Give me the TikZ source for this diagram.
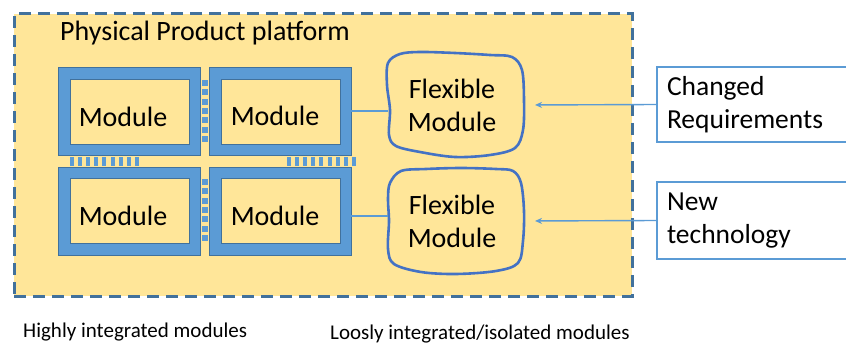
\documentclass[tikz,border=0pt]{standalone}
\usepackage{fontspec}
\setmainfont{Carlito}
\usetikzlibrary{arrows.meta}
\definecolor{pyel}{HTML}{FFE699}
\definecolor{mblue}{HTML}{5B9BD5}
\definecolor{mdark}{HTML}{41719C}
\definecolor{fblue}{HTML}{4472C4}
\tikzset{
  platform/.style={draw=mdark, fill=pyel, line width=3pt, dash pattern=on 12pt off 7pt,
    minimum width=618pt, minimum height=282pt, inner sep=0pt, outer sep=0pt},
  modout/.style={draw=mdark, fill=mblue, line width=0.8pt, minimum width=142pt,
    minimum height=88pt, inner sep=0pt, outer sep=0pt},
  modin/.style={draw=mdark, fill=pyel, line width=0.6pt, minimum width=119pt,
    minimum height=65pt, inner sep=0pt, outer sep=0pt},
  modtext/.style={inner sep=0pt, font=\fontsize{28}{33}\selectfont},
  flexnode/.style={minimum width=136pt, minimum height=104pt, inner sep=0pt, outer sep=0pt,
    align=center, font=\fontsize{28}{33}\selectfont},
  wobble/.style={draw=fblue, line width=2.6pt, line join=round},
  rbox/.style={draw=mblue, fill=white, line width=1.6pt, anchor=west, text width=180pt,
    inner xsep=10pt, inner ysep=0pt, align=left, outer sep=0pt,
    font=\fontsize{27.5}{33}\selectfont},
  conn/.style={draw=mblue, line width=2pt},
  arr/.style={draw=mblue, line width=1.4pt, -{Stealth[length=7pt,width=6pt]}, shorten >=10pt},
  bar/.style={fill=mblue},
  caption/.style={anchor=west, inner sep=0pt, font=\fontsize{21}{24}\selectfont}
}
\begin{document}
\begin{tikzpicture}[x=1pt, y=-1pt]
\useasboundingbox (0,0) rectangle (846,345);
\clip (0,0) rectangle (846,345);
\fill[white] (0,0) rectangle (846,345);

\node[platform] (pf) at (323,155) {};
\node[anchor=west, inner sep=0pt, font=\fontsize{28}{33}\selectfont] (title) at (60,33) {Physical Product platform};

% modules
\node[modout] (m1o) at (129.5,111) {};
\node[modin] (m1) at (129.5,111.5) {};
\node[modtext] (m1t) at (123,117) {Module};
\node[modout] (m2o) at (280,111) {};
\node[modin] (m2) at (280.5,111.5) {};
\node[modtext] (m2t) at (275,116) {Module};
\node[modout] (m3o) at (129.5,211) {};
\node[modin] (m3) at (129.5,210.5) {};
\node[modtext] (m3t) at (123,216) {Module};
\node[modout] (m4o) at (280,211) {};
\node[modin] (m4) at (280.5,210.5) {};
\node[modtext] (m4t) at (275,216) {Module};

% integration stripes
\foreach \i in {0,...,6} {
  \fill[bar] (201.5,{80+\i*9.3}) rectangle (207.5,{86+\i*9.3});
  \fill[bar] (201.5,{179+\i*9.3}) rectangle (207.5,{185+\i*9.3});
}
\foreach \i in {0,...,8} {
  \fill[bar] ({70+\i*8.1},157) rectangle ({74+\i*8.1},166);
  \fill[bar] ({287+\i*8.1},157) rectangle ({291+\i*8.1},166);
}

% flexible modules
\node[flexnode] (f1) at (452,105) {Flexible\\Module};
\node[flexnode] (f2) at (452,221) {Flexible\\Module};
\begin{scope}[shift={(456,105)}]
\draw[wobble] plot[smooth cycle, tension=0.55] coordinates {
 (-68,-42) (-56,-51) (-36,-53) (-1,-52) (34,-50) (56,-48) (66,-35) (68,-5)
 (67,25) (59,43) (34,50) (-1,52) (-36,47) (-60,41) (-67,30) (-66,5) (-69,-20)};
\end{scope}
\begin{scope}[shift={(456,221)}]
\draw[wobble] plot[smooth cycle, tension=0.55] coordinates {
 (-66,-38) (-55,-50) (-30,-52) (5,-53) (40,-52) (57,-50) (65,-38) (68,-10)
 (67,20) (62,42) (40,50) (0,53) (-35,51) (-62,43) (-68,28) (-67,0) (-68,-22)};
\end{scope}

\coordinate (f1w) at (388,111);
\coordinate (f2w) at (388,216);
\coordinate (f1e) at (525,105);
\coordinate (f2e) at (525,221);
\draw[conn] (m2o.east) -- (f1w);
\draw[conn] (m4o.east |- f2w) -- (f2w);

% external drivers
\node[rbox, minimum height=75pt] (r1) at (657,104.5) {Changed\\Requirements};
\node[rbox, minimum height=77pt] (r2) at (657,220.5) {New\\technology};
\draw[arr] (r1.west) -- (f1e);
\draw[arr] (r2.west) -- (f2e);

% captions
\node[caption] (c1) at (23,332) {Highly integrated modules};
\node[caption] (c2) at (330,334) {Loosly integrated/isolated modules};
\end{tikzpicture}
\end{document}
